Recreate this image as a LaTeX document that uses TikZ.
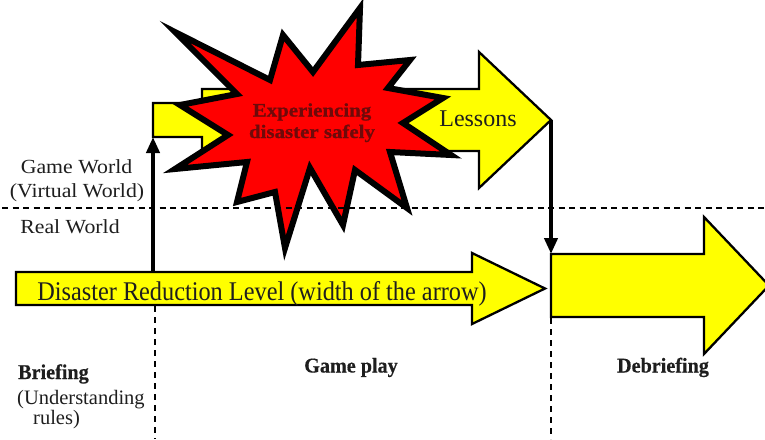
\documentclass[tikz,border=0pt]{standalone}
\usepackage{fontspec}
\setmainfont{Liberation Serif}
\newfontfamily\worldfont[FakeStretch=1.09]{Liberation Serif}
\newfontfamily\levelfont[FakeStretch=0.9]{Liberation Serif}
\newfontfamily\burstfont[FakeStretch=1.1,FakeBold=0.8]{Liberation Serif}
\newfontfamily\phasefont[FakeStretch=0.96,FakeBold=0.5]{Liberation Serif}
\usetikzlibrary{arrows.meta}

\definecolor{arrowyellow}{RGB}{255,255,0}
\definecolor{burstred}{RGB}{255,0,0}
\definecolor{bursttext}{RGB}{110,10,10}
\definecolor{ink}{RGB}{30,30,30}

\begin{document}
\begin{tikzpicture}[x=1pt,y=-1pt,
  blockarrow/.style={fill=arrowyellow,draw=black,line width=2.3pt,line join=miter},
  burst/.style={fill=burstred,draw=black,line width=6pt,line join=miter,miter limit=12},
  link/.style={draw=black,line width=4.2pt,-{Triangle[width=13pt,length=16pt]}},
  worldline/.style={draw=black,line width=1.9pt,dash pattern=on 6pt off 4.5pt},
  phaseline/.style={draw=black,line width=1.7pt,dash pattern=on 6pt off 5pt},
  txt/.style={anchor=base,inner sep=0pt,text=ink}]
\useasboundingbox (0,0) rectangle (765,439);
\fill[white] (0,0) rectangle (765,439);

% named anchor points of the block arrows
\coordinate (gwBase) at (153,137);
\coordinate (gwTip) at (551,120);
\coordinate (rlTop) at (153,272);
\coordinate (dbTop) at (551,254);

\begin{scope}
\clip (0,0) rectangle (765,439);

% game-world arrow (narrow start, wider shaft)
\draw[blockarrow] (153,103) -- (202,103) -- (202,89) -- (479,89) -- (479,52)
  -- (gwTip) -- (479,188) -- (479,151) -- (202,151) -- (202,137) -- (gwBase) -- cycle;

% burst
\draw[burst] (175,32) -- (270,80) -- (283,35) -- (313,72) -- (360,8) -- (358,65)
  -- (410,60) -- (388,88) -- (443,98) -- (403,123) -- (451,155) -- (390,152)
  -- (407,208) -- (355,170) -- (343,225) -- (310,168) -- (285,248) -- (275,192)
  -- (237,202) -- (247,162) -- (175,169) -- (228,135) -- (180,105) -- (237,94) -- cycle;

% real-world arrows
\draw[blockarrow] (16,272) -- (rlTop) -- (472,272) -- (472,253) -- (545,288.5)
  -- (472,324) -- (472,305) -- (16,305) -- cycle;
\draw[blockarrow] (dbTop) -- (704,254) -- (704,217) -- (769,285.5) -- (704,354)
  -- (704,317) -- (551,317) -- cycle;
\end{scope}

% boundary between game world and real world
\draw[worldline] (2,208) -- (765,208);

% phase separators
\coordinate (sepA) at (155,306);
\coordinate (sepB) at (551,318);
\draw[phaseline] (sepA) -- (155,439);
\draw[phaseline] (sepB) -- (551,439);

% transitions
\draw[link] (rlTop) -- (gwBase);
\draw[link] (gwTip) -- (dbTop);

% texts
\node[txt,font=\burstfont\bfseries\fontsize{19}{22}\selectfont,text=bursttext] (exp1) at (312,116.5) {Experiencing};
\node[txt,font=\burstfont\bfseries\fontsize{19}{22}\selectfont,text=bursttext] (exp2) at (312,138) {disaster safely};
\node[txt,font=\fontsize{24}{28}\selectfont] (lessons) at (478,126) {Lessons};

\node[txt,font=\worldfont\fontsize{20}{24}\selectfont] (gw) at (76.5,173) {Game World};
\node[txt,font=\worldfont\fontsize{20}{24}\selectfont] (vw) at (77,197) {(Virtual World)};
\node[txt,font=\worldfont\fontsize{20}{24}\selectfont] (rw) at (70,233) {Real World};

\node[txt,font=\levelfont\fontsize{27}{32}\selectfont] (drl) at (262,300) {Disaster Reduction Level (width of the arrow)};

\node[txt,anchor=base west,font=\phasefont\bfseries\fontsize{21}{24}\selectfont] (brief) at (18,379) {Briefing};
\node[txt,anchor=base west,font=\fontsize{20.5}{24}\selectfont] (under) at (17,404) {(Understanding};
\node[txt,anchor=base west,font=\fontsize{20.5}{24}\selectfont] (rules) at (33,424) {rules)};
\node[txt,font=\phasefont\bfseries\fontsize{21}{24}\selectfont] (play) at (351,372.5) {Game play};
\node[txt,font=\phasefont\bfseries\fontsize{21}{24}\selectfont] (debrief) at (663,372.5) {Debriefing};
\end{tikzpicture}
\end{document}
